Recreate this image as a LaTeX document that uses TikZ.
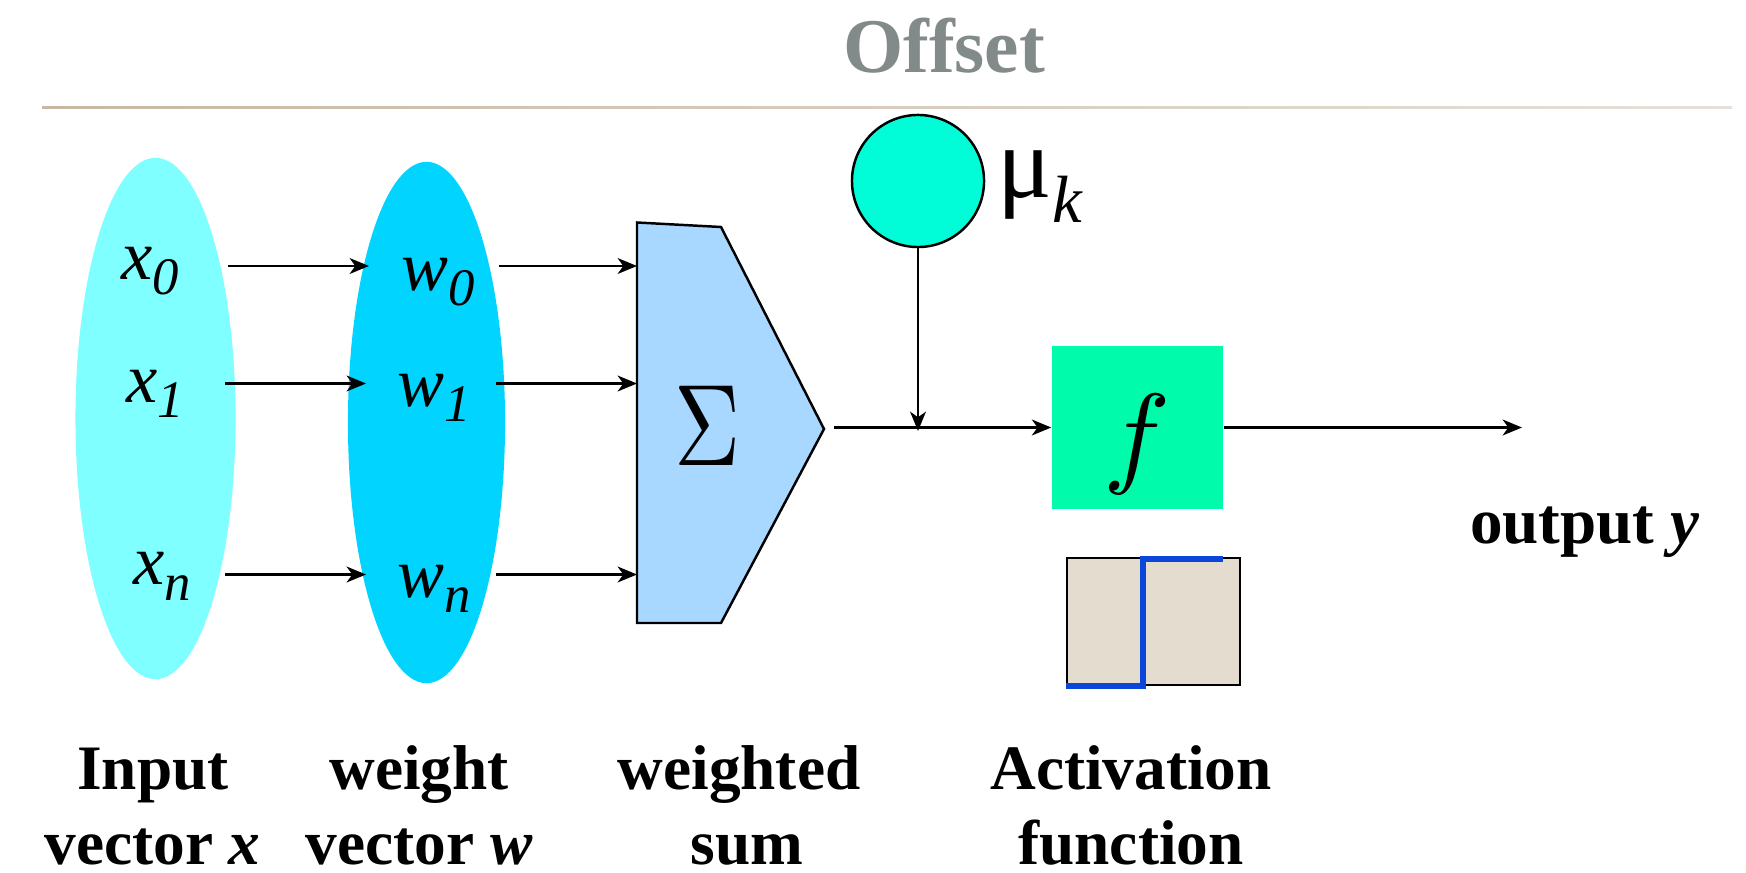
\documentclass[tikz,border=0pt]{standalone}
\usepackage{fontspec}
\setmainfont{Liberation Serif}
\usetikzlibrary{arrows.meta,shapes.geometric}
\definecolor{ellA}{HTML}{7FFFFF}
\definecolor{ellB}{HTML}{00D4FF}
\definecolor{sumfill}{HTML}{A8D8FF}
\definecolor{offfill}{HTML}{00FDD8}
\definecolor{actfill}{HTML}{00FBAA}
\definecolor{stepfill}{HTML}{E4DCCF}
\definecolor{stepblue}{HTML}{0A46D8}
\definecolor{titlegray}{HTML}{828A8A}
\definecolor{ruleL}{HTML}{C8B8A2}
\definecolor{ruleR}{HTML}{E6E0D8}
\newcommand\sublbl[2]{\fontsize{20}{20}\selectfont\textit{#1}\raisebox{-4.5pt}{\fontsize{15}{15}\selectfont\textit{#2}}}
\tikzset{
  conn/.style={line width=0.7pt,-{Stealth[length=5.5pt,width=4.5pt,inset=1.6pt]}},
  lbl/.style={inner sep=0pt,anchor=base west},
  caption/.style={inner sep=0pt,anchor=base,font=\fontsize{18}{20}\selectfont\bfseries},
  ellnode/.style={ellipse,inner sep=0pt,minimum width=1.60cm,minimum height=5.21cm},
}
\begin{document}
\begin{tikzpicture}[x=0.01cm,y=-0.01cm]
\useasboundingbox (0,0) rectangle (1746,873);
% title and rule
\node[inner sep=0pt,anchor=base,text=titlegray,font=\fontsize{22}{22}\selectfont\bfseries] (title) at (944,73) {Offset};
\shade[left color=ruleL,right color=ruleR] (42,106.6) rectangle (1732,108.4);
% ellipses
\node[ellnode,fill=ellA] (inp) at (155.5,418.5) {};
\node[ellnode,fill=ellB,minimum width=1.57cm] (wgt) at (426.5,422.5) {};
% labels
\node[lbl] (x0) at (121,279) {\sublbl{x}{0}};
\node[lbl] (x1) at (126,402) {\sublbl{x}{1}};
\node[lbl] (xn) at (133,584.5) {\sublbl{x}{n}};
\node[lbl] (w0) at (401,290) {\sublbl{w}{0}};
\node[lbl] (w1) at (397,406) {\sublbl{w}{1}};
\node[lbl] (wn) at (397,597) {\sublbl{w}{n}};
% pentagon (weighted sum)
\coordinate (p1) at (637,222.5);
\coordinate (p2) at (721,227);
\coordinate (tip) at (824,429);
\coordinate (p4) at (721,623);
\coordinate (p5) at (637,623);
\draw[fill=sumfill,line width=0.7pt,line join=miter] (p1) -- (p2) -- (tip) -- (p4) -- (p5) -- cycle;
\node[inner sep=0pt,anchor=base,font=\fontsize{10}{10}\selectfont] (sig) at (708,465) {\scalebox{2.6}[3.3]{$\Sigma$}};
% arrow end points
\coordinate (a0s) at (228,266);  \coordinate (a0e) at (369,266);
\coordinate (b0s) at (499,266);  \coordinate (b0e) at (637,266);
\coordinate (a1s) at (225,383.5);\coordinate (a1e) at (366,383.5);
\coordinate (b1s) at (496,383.5);\coordinate (b1e) at (637,383.5);
\coordinate (ans) at (225,574.5);\coordinate (ane) at (366,574.5);
\coordinate (bns) at (496,574.5);\coordinate (bne) at (637,574.5);
\draw[conn] (a0s) -- (a0e);
\draw[conn] (b0s) -- (b0e);
\draw[conn] (a1s) -- (a1e);
\draw[conn] (b1s) -- (b1e);
\draw[conn] (ans) -- (ane);
\draw[conn] (bns) -- (bne);
% offset circle
\node[circle,draw,line width=0.7pt,fill=offfill,minimum size=1.32cm,inner sep=0pt] (mu) at (918,181) {};
\node[inner sep=0pt,anchor=base west] (mulbl) at (997,198) {\fontsize{29}{29}\selectfont μ\raisebox{-7pt}{\fontsize{19}{19}\selectfont\textit{k}}};
% activation box
\node[fill=actfill,minimum width=1.71cm,minimum height=1.63cm,inner sep=0pt] (fbox) at (1137.5,427.5) {};
\node[inner sep=0pt,anchor=base,font=\fontsize{10}{10}\selectfont] (flbl) at (1137,472) {\scalebox{3.2}{$f$}};
\coordinate (sumout) at (834,427.5);
\coordinate (join) at (918,431);
\draw[conn] (sumout) -- (fbox.west);
\draw[conn] (mu.south) -- (join);
\coordinate (out) at (1522,427.5);
\draw[conn] (fbox.east) -- (out);
\node[inner sep=0pt,anchor=base,font=\fontsize{18.5}{20}\selectfont\bfseries] (outlbl) at (1585,543) {output \textit{y}};
% step function
\node[draw,line width=0.7pt,fill=stepfill,minimum width=1.73cm,minimum height=1.27cm,inner sep=0pt] (stepbox) at (1153.5,621.5) {};
\draw[stepblue,line width=1.6pt] (stepbox.south west) -- ++(77,0) -- ++(0,-127) -- ++(80,0);
% captions
\node[caption] (c1a) at (153,789) {Input};
\node[caption] (c1b) at (152.5,864) {vector \textit{x}};
\node[caption] (c2a) at (419,789) {weight};
\node[caption] (c2b) at (419,864) {vector \textit{w}};
\node[caption] (c3a) at (739,789) {weighted};
\node[caption] (c3b) at (747,864) {sum};
\node[caption] (c4a) at (1131,789) {Activation};
\node[caption] (c4b) at (1131,864) {function};
\end{tikzpicture}
\end{document}
